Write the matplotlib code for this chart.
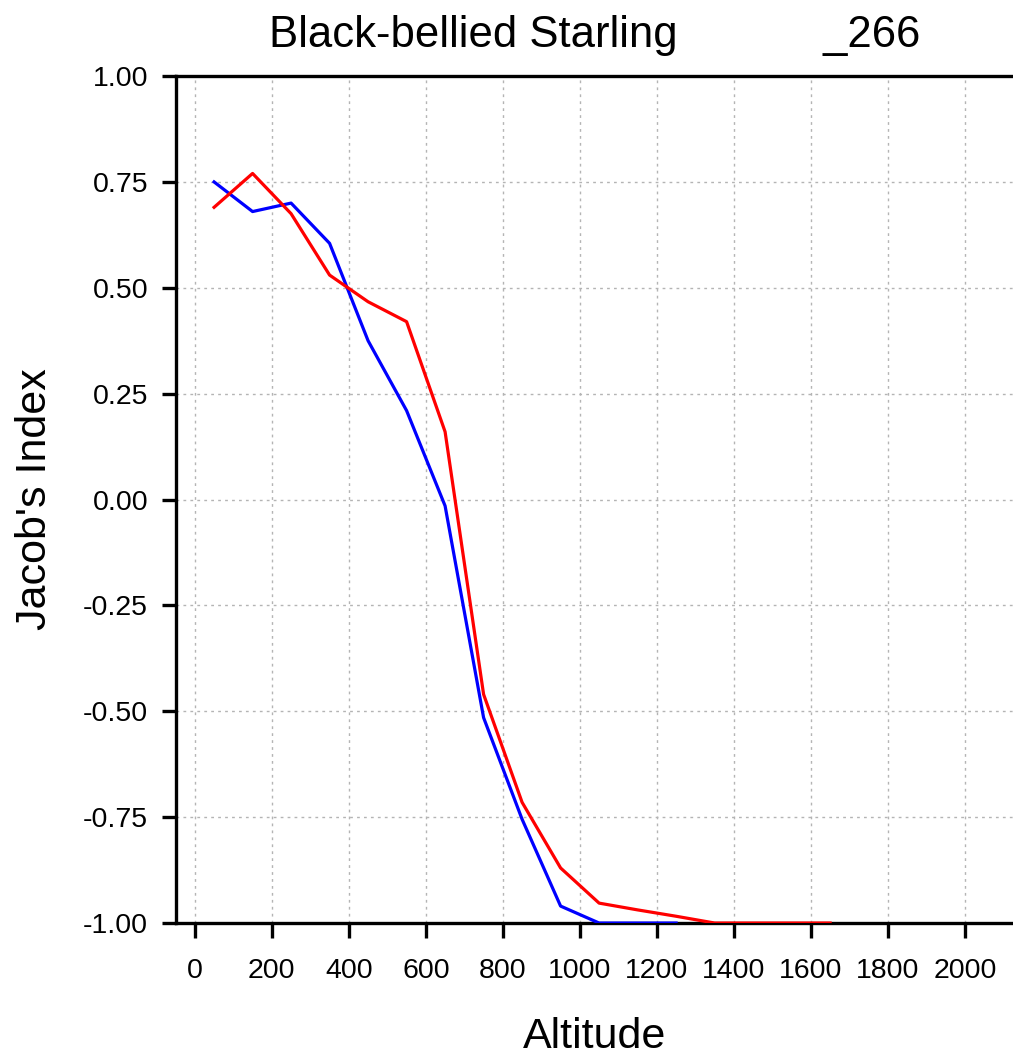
import matplotlib
matplotlib.use("Agg")
from matplotlib import pyplot as plt

# Data
altitude_red = [50, 150, 250, 350, 450, 550, 650, 750, 850, 950, 1050, 1150, 1250, 1350, 1450, 1550, 1650]
index_red = [0.69, 0.77, 0.675, 0.53, 0.467, 0.42, 0.16, -0.46, -0.715, -0.87, -0.953, -0.969, -0.984,
             -1.0, -1.0, -1.0, -1.0]

altitude_blue = [50, 150, 250, 350, 450, 550, 650, 750, 850, 950, 1050, 1150, 1250]
index_blue = [0.75, 0.68, 0.70, 0.605, 0.375, 0.21, -0.015, -0.515, -0.755, -0.96, -1.0, -1.0, -1.0]

x_ticks = [0, 200, 400, 600, 800, 1000, 1200, 1400, 1600, 1800, 2000]
y_ticks = [1.00, 0.75, 0.50, 0.25, 0.00, -0.25, -0.50, -0.75, -1.00]

plt.rcParams["font.family"] = ["Liberation Sans", "DejaVu Sans"]

fig = plt.figure(figsize=(10.13, 10.59), dpi=100)
ax = fig.add_axes([0.1737, 0.1284, 0.8263, 0.7998])

ax.plot(altitude_blue, index_blue, color="#0000ff", lw=2.3, zorder=3)
ax.plot(altitude_red, index_red, color="#ff0000", lw=2.3, zorder=4)

ax.set_xlim(-49, 2125)
ax.set_ylim(-1.0, 1.0)
ax.set_xticks(x_ticks)
ax.set_yticks(y_ticks)
ax.set_yticklabels(["%.2f" % v for v in y_ticks])

ax.grid(True, color="#b4b4b4", linestyle=(0, (2, 3)), linewidth=1.0)

for side in ["top", "left", "bottom"]:
    ax.spines[side].set_linewidth(2.4)
ax.spines["right"].set_visible(False)

ax.tick_params(axis="y", direction="out", length=10, width=2.4, labelsize=20.5, pad=10)
ax.tick_params(axis="x", direction="out", length=11, width=2.4, labelsize=20.5, pad=14)

# Title with padding spaces between the species name and the id
ax.set_title("Black-bellied Starling" + " " * 12 + "_266", fontsize=31.4, pad=21)
ax.set_xlabel("Altitude", fontsize=31, labelpad=24)
ax.set_ylabel("Jacob's Index", fontsize=31, labelpad=20)

plt.savefig("out.png", dpi=100)
